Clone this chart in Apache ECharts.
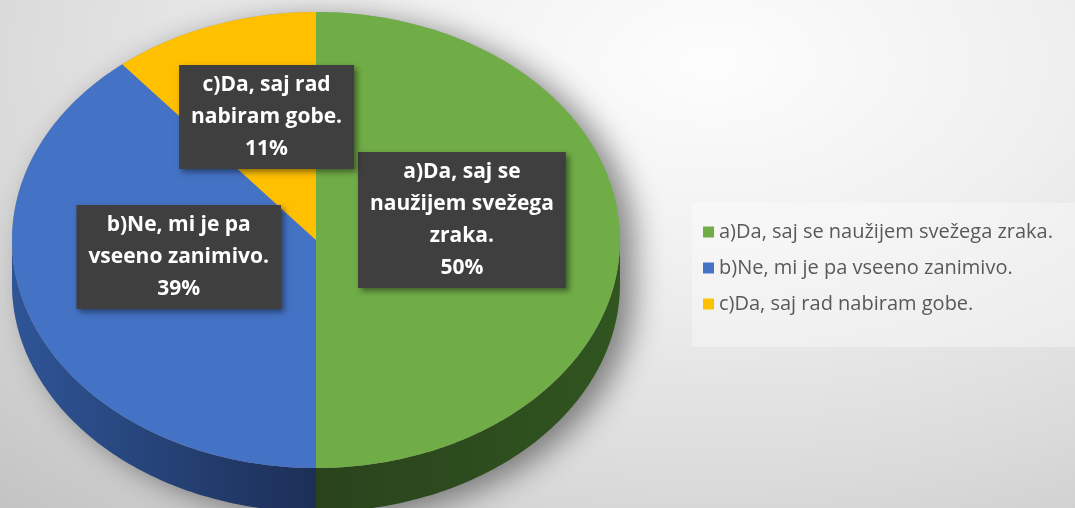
<!DOCTYPE html>
<html>
<head>
<meta charset="utf-8">
<script src="https://cdn.jsdelivr.net/npm/echarts@6/dist/echarts.min.js"></script>
<style>
  html, body { margin: 0; padding: 0; }
  body {
    width: 1075px; height: 508px; overflow: hidden;
    background: radial-gradient(ellipse 95% 120% at 66% 12%, #fdfdfd 0%, #efefef 35%, #dadada 70%, #c4c4c4 100%);
  }
  #chart { width: 1075px; height: 508px; }
</style>
</head>
<body>
<div id="chart"></div>
<script>
const categories = [
  'a)Da, saj se naužijem svežega zraka.',
  'b)Ne, mi je pa vseeno zanimivo.',
  'c)Da, saj rad nabiram gobe.'
];
const labelTexts = [
  'a)Da, saj se\nnaužijem svežega\nzraka.',
  'b)Ne, mi je pa\nvseeno zanimivo.',
  'c)Da, saj rad\nnabiram gobe.'
];
const values = [50, 39, 11];

const topColors = ['#70AD47', '#4472C4', '#FFC000'];
const sideColors = [['#2a431d', '#30551f'], ['#2f5597', '#1c2f56'], ['#8a6a00', '#7a5c00']];

// ellipse layout of the "3d" pie
const CX = 316, CY = 240, RX = 304, RY = 228, DEPTH = 44;
const total = values.reduce((a, b) => a + b, 0);

const pt = (deg, dy) => {
  const t = deg * Math.PI / 180;
  return [CX + RX * Math.sin(t), CY - RY * Math.cos(t) + (dy || 0)];
};
const arc = (a0, a1, dy) => {
  const pts = [];
  const n = Math.max(2, Math.ceil(Math.abs(a1 - a0)));
  for (let k = 0; k <= n; k++) pts.push(pt(a0 + (a1 - a0) * k / n, dy));
  return pts;
};
const sliceRange = (i) => {
  let before = 0;
  for (let k = 0; k < i; k++) before += values[k];
  return [360 * before / total, 360 * (before + values[i]) / total];
};

const renderSlice = (params, api) => {
  const i = params.seriesIndex;
  const [a0, a1] = sliceRange(i);
  const children = [];

  if (i === 0) {
    // silhouette with soft shadow, covered by the slices
    const sil = arc(-90, 90).concat(arc(90, 270, DEPTH));
    children.push({
      type: 'polygon', shape: {points: sil},
      style: {fill: '#9a9a9a', shadowBlur: 30, shadowColor: 'rgba(0,0,0,0.45)', shadowOffsetX: 14, shadowOffsetY: 6}
    });
  }

  // visible wall (front half only)
  const w0 = Math.max(a0, 90), w1 = Math.min(a1, 270);
  if (w1 > w0) {
    const wall = arc(w0, w1).concat(arc(w1, w0, DEPTH));
    const xs = wall.map(p => p[0]);
    children.push({
      type: 'polygon', shape: {points: wall},
      style: {
        fill: {
          type: 'linear', global: true,
          x: Math.min(...xs), y: 0,
          x2: Math.max(...xs), y2: 0,
          colorStops: [{offset: 0, color: sideColors[i][0]}, {offset: 1, color: sideColors[i][1]}]
        }
      }
    });
  }

  // top face
  const top = [[CX, CY]].concat(arc(a0, a1));
  children.push({
    type: 'polygon', shape: {points: top},
    style: {fill: topColors[i]}
  });

  return {type: 'group', children: children};
};

const renderLabel = (params, api) => {
  const i = params.dataIndex;
  const [a0, a1] = sliceRange(i);
  const mid = (a0 + a1) / 2 * Math.PI / 180;
  const x = CX + 0.48 * RX * Math.sin(mid);
  const y = CY - 20 - 0.48 * RY * Math.cos(mid);
  const pct = Math.round(values[i] / total * 100) + '%';
  return {
    type: 'text', x: x, y: y,
    style: {
      text: labelTexts[i] + '\n' + pct,
      fill: '#ffffff',
      fontFamily: 'Open Sans', fontWeight: 'bold', fontSize: 21,
      lineHeight: 32,
      align: 'center', verticalAlign: 'middle',
      backgroundColor: '#3f3f3f',
      padding: [4, 12],
      shadowBlur: 6, shadowColor: 'rgba(0,0,0,0.45)', shadowOffsetX: 3, shadowOffsetY: 3
    }
  };
};

const chart = echarts.init(document.getElementById('chart'), null, {renderer: 'canvas'});

const series = categories.map((name, i) => ({
  type: 'custom',
  name: name,
  coordinateSystem: 'none',
  renderItem: renderSlice,
  itemStyle: {color: topColors[i]},
  data: [values[i]],
  z: 2,
  silent: true
}));
series.push({
  type: 'custom',
  name: 'labels',
  coordinateSystem: 'none',
  renderItem: renderLabel,
  data: values,
  z: 10,
  silent: true
});

chart.setOption({
  backgroundColor: 'transparent',
  animation: false,
  legend: {
    data: categories,
    orient: 'vertical',
    left: 692,
    top: 203,
    icon: 'rect',
    itemWidth: 11,
    itemHeight: 11,
    itemGap: 16,
    padding: [19, 30, 33, 11],
    backgroundColor: 'rgba(255,255,255,0.35)',
    textStyle: {
      fontFamily: 'Open Sans',
      fontSize: 20,
      lineHeight: 20,
      color: '#595959'
    }
  },
  series: series
});
</script>
</body>
</html>
